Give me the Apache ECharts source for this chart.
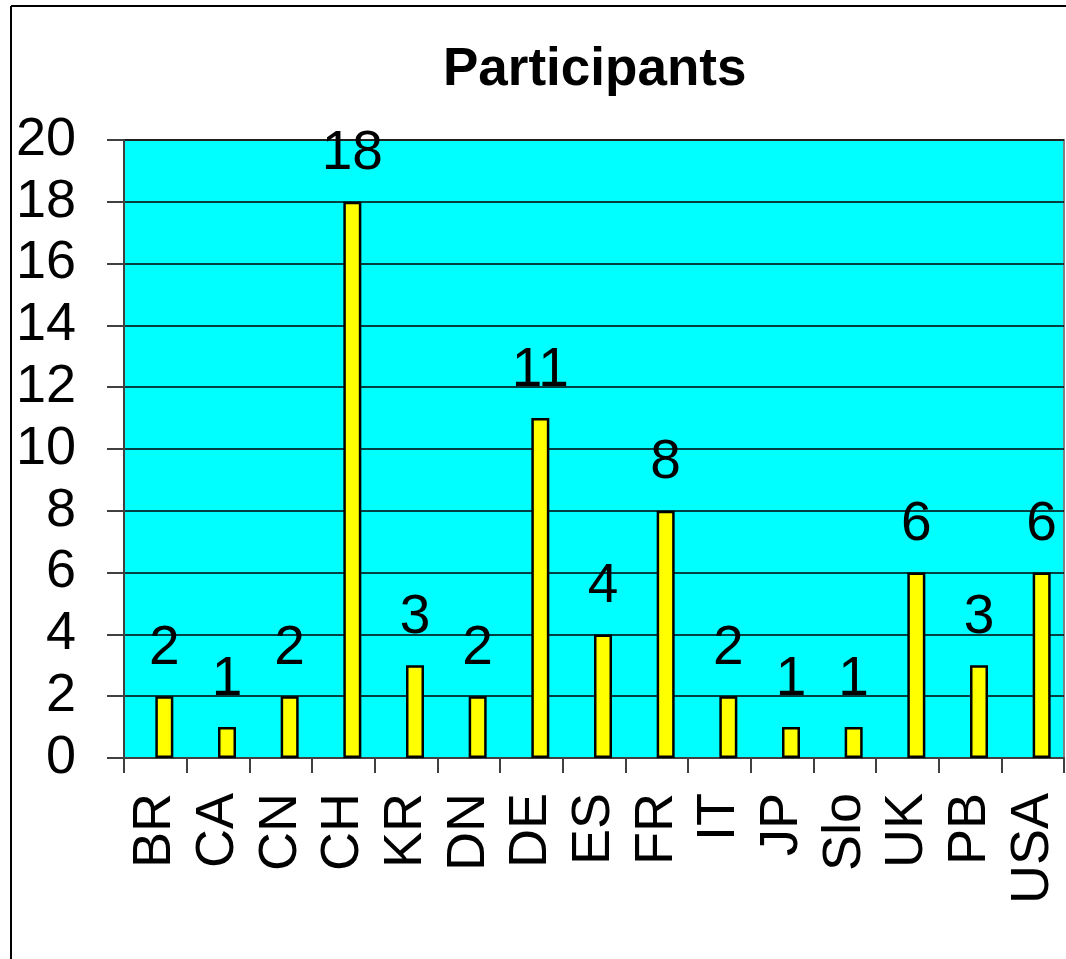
<!DOCTYPE html>
<html>
<head>
<meta charset="utf-8">
<script src="https://cdn.jsdelivr.net/npm/echarts@6/dist/echarts.min.js"></script>
<style>
html,body{margin:0;padding:0;background:#fff;}
#chart{width:1066px;height:959px;}
</style>
</head>
<body>
<div id="chart"></div>
<script>
var categories = ['BR','CA','CN','CH','KR','DN','DE','ES','FR','IT','JP','Slo','UK','PB','USA'];
var participants = [2,1,2,18,3,2,11,4,8,2,1,1,6,3,6];
var yTicks = {min:0, max:20, interval:2};
var titleText = 'Participants';

var FONT = '"Liberation Sans", Arial, sans-serif';
var chart = echarts.init(document.getElementById('chart'), null, {renderer:'canvas'});
chart.setOption({
  backgroundColor:'#ffffff',
  animation:false,
  title:{
    text:titleText,
    left:438, top:39,
    textStyle:{fontFamily:FONT, fontSize:53, fontWeight:'bold', color:'#000'}
  },
  graphic:[
    {type:'line', shape:{x1:11,y1:6,x2:1066,y2:6}, style:{stroke:'#000',lineWidth:2}, z:100},
    {type:'line', shape:{x1:11,y1:6,x2:11,y2:959}, style:{stroke:'#000',lineWidth:2}, z:100}
  ],
  grid:{
    left:124, top:140, right:2, bottom:201,
    show:true, backgroundColor:'#00FFFF', borderColor:'#808080', borderWidth:2
  },
  xAxis:{
    type:'category', data:categories,
    axisLine:{show:true, lineStyle:{color:'#404040', width:2}},
    axisTick:{show:true, length:15, lineStyle:{color:'#404040', width:2}},
    axisLabel:{rotate:90, margin:35, color:'#000', fontFamily:FONT, fontSize:54, interval:0}
  },
  yAxis:{
    type:'value', min:yTicks.min, max:yTicks.max, interval:yTicks.interval,
    axisLine:{show:true, lineStyle:{color:'#404040', width:2}},
    axisTick:{show:true, length:17, lineStyle:{color:'#404040', width:2}},
    axisLabel:{margin:48, color:'#000', fontFamily:FONT, fontSize:54},
    splitLine:{show:true, lineStyle:{color:'#000', width:1.5}}
  },
  series:[
    {type:'bar', name:'', data:[], barWidth:18, barGap:'0%'},
    {type:'bar', name:titleText, data:participants, barWidth:18, barGap:'0%',
     itemStyle:{color:'#FFFF00', borderColor:'#000', borderWidth:2.5},
     label:{show:true, position:'top', distance:20, color:'#000', fontFamily:FONT, fontSize:55}
    }
  ]
});
</script>
</body>
</html>
